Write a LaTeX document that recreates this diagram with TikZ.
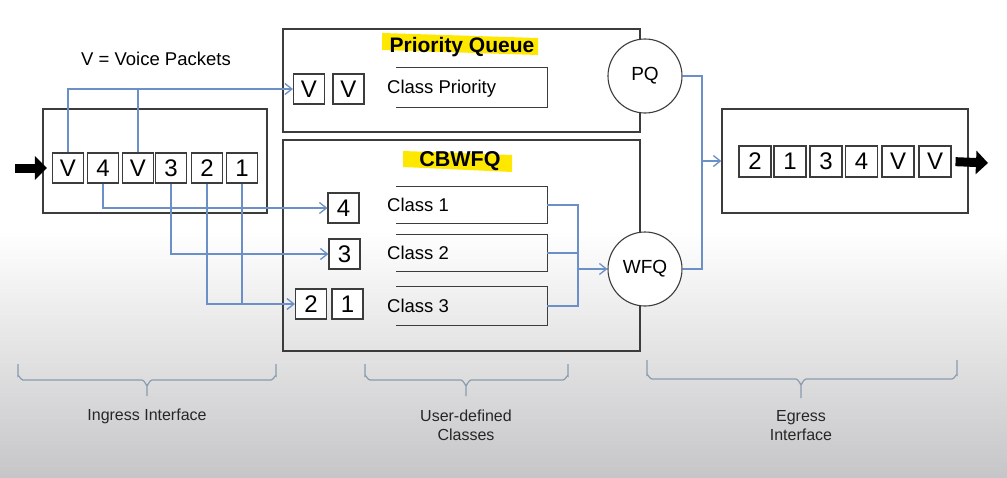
\documentclass[tikz,border=0pt]{standalone}
\usepackage{fontspec}
\setmainfont{Liberation Sans}
\usetikzlibrary{arrows.meta}
\definecolor{boxc}{RGB}{60,60,60}
\definecolor{conc}{RGB}{107,144,200}
\definecolor{hil}{RGB}{255,232,0}
\definecolor{brc}{RGB}{138,155,176}
\definecolor{bgbot}{RGB}{198,198,200}
\begin{document}
\begin{tikzpicture}[x=1pt,y=-1pt,
 fs/.style={font=\fontsize{#1}{#1}\selectfont},
 box/.style={draw=boxc,line width=1.3pt,inner sep=0},
 pkt/.style={draw=boxc,line width=1.1pt,fill=white,minimum width=31pt,minimum height=30pt,inner sep=0,font=\fontsize{24}{24}\selectfont},
 conn/.style={draw=conc,line width=1.3pt,-{Straight Barb[length=7pt,width=11pt]}},
 link/.style={draw=conc,line width=1.3pt},
 que/.style={minimum width=151pt,inner sep=0},
 qline/.style={draw=boxc,line width=1.2pt},
 qlab/.style={anchor=west,inner sep=0,font=\fontsize{18.5}{18.5}\selectfont},
 sched/.style={circle,draw=boxc,line width=1.1pt,fill=white,minimum size=74pt,inner sep=0,font=\fontsize{19}{19}\selectfont},
 big/.style={line width=9pt,-{Triangle[length=12pt,width=23pt]}},
 brace/.style={draw=brc,line width=1.2pt},
 blab/.style={font=\fontsize{16}{19}\selectfont,align=center,text=black!85}
]
\useasboundingbox (0,0) rectangle (1007,477);
\fill[white] (0,0) rectangle (1007,477);
\shade[top color=white,bottom color=bgbot] (0,230) rectangle (1007,477);

% highlights
\fill[hil] (382,33) -- (538,38) -- (538,55) -- (382,50) -- cycle;
\fill[hil] (403,151) -- (512,155) -- (512,172) -- (403,167) -- cycle;

% main boxes
\node[box,minimum width=224pt,minimum height=104pt] (ing) at (155,161) {};
\node[box,minimum width=357pt,minimum height=103pt] (pqbox) at (461.5,80.5) {};
\node[box,minimum width=357pt,minimum height=211pt] (cbbox) at (461.5,245.5) {};
\node[box,minimum width=246pt,minimum height=104pt] (egr) at (845,161) {};

% titles
\node[font=\fontsize{21}{21}\selectfont\bfseries] (pqt) at (462,47) {Priority Queue};
\node[font=\fontsize{21.5}{21.5}\selectfont\bfseries] (cbt) at (460,161) {CBWFQ};
\node[fs=18.5] (vt) at (156,59) {V = Voice Packets};

% ingress packets
\node[pkt] (i1) at (68,168) {V};
\node[pkt] (i2) at (103,168) {4};
\node[pkt] (i3) at (138,168) {V};
\node[pkt] (i4) at (171,168) {3};
\node[pkt] (i5) at (207,168) {2};
\node[pkt] (i6) at (242,168) {1};

% priority queue
\node[pkt] (pv1) at (309,89) {V};
\node[pkt] (pv2) at (348.5,89) {V};
\node[que,minimum height=39pt] (qp) at (471.5,87.5) {};
\draw[qline] (qp.north west) -- (qp.north east) -- (qp.south east) -- (qp.south west);
\node[qlab] (qpl) at (387,89) {Class Priority};

% CBWFQ queues
\node[pkt] (c4) at (343.5,208) {4};
\node[pkt] (c3) at (344.5,254) {3};
\node[pkt] (c2) at (311,304) {2};
\node[pkt] (c1) at (347.5,304) {1};
\node[que,minimum height=37pt] (q1) at (471.5,205) {};
\node[que,minimum height=37pt] (q2) at (471.5,253) {};
\node[que,minimum height=39pt] (q3) at (471.5,306) {};
\foreach \q in {q1,q2,q3}
  \draw[qline] (\q.north west) -- (\q.north east) -- (\q.south east) -- (\q.south west);
\node[qlab] (q1l) at (387,205) {Class 1};
\node[qlab] (q2l) at (387,253) {Class 2};
\node[qlab] (q3l) at (387,306) {Class 3};

% schedulers
\node[sched] (pq) at (645,76) {PQ};
\node[sched] (wfq) at (645,269) {WFQ};

% egress packets
\node[pkt,minimum width=32pt,minimum height=31pt] (e1) at (755,161.5) {2};
\node[pkt,minimum width=32pt,minimum height=31pt] (e2) at (790,161.5) {1};
\node[pkt,minimum width=32pt,minimum height=31pt] (e3) at (826,161.5) {3};
\node[pkt,minimum width=32pt,minimum height=31pt] (e4) at (861.5,161.5) {4};
\node[pkt,minimum width=32pt,minimum height=31pt] (e5) at (898,161.5) {V};
\node[pkt,minimum width=32pt,minimum height=31pt] (e6) at (935,161.5) {V};

% connectors ingress -> queues
\draw[conn] (i1.north) |- (pv1.west);
\draw[link] (i3.north) -- (i3 |- pv1);
\draw[conn] (i2.south) |- (c4.west);
\draw[conn] (i4.south) |- (c3.west);
\draw[conn] (i5.south) |- (c2.west);
\draw[link] (i6.south) -- (i6 |- c2);

% queues -> WFQ
\coordinate (j) at (578,269);
\draw[link] (q1.east) -| (j);
\draw[link] (q2.east) -| (j);
\draw[link] (q3.east) -| (j);
\draw[conn] (j) -- (wfq.west);

% schedulers -> egress
\coordinate (k) at (702,161);
\draw[link] (pq.east) -| (k);
\draw[link] (wfq.east) -| (k);
\draw[conn] (k) -- (egr.west);

% big arrows
\coordinate (inA) at (15,168);
\coordinate (outA) at (988,163);
\draw[big,shorten >=5pt] (inA) -- (i1.west);
\draw[big,shorten <=4pt] (e6.east) -- (outA);

% braces
\draw[brace] (18,364) -- (18,376) to[out=90,in=180] (23,380) -- (142,380) to[out=0,in=-90] (147,385) -- (147,396);
\draw[brace] (147,385) to[out=-90,in=180] (152,380) -- (271,380) to[out=0,in=90] (276,376) -- (276,364);
\draw[brace] (365,364) -- (365,376) to[out=90,in=180] (370,380) -- (461,380) to[out=0,in=-90] (466,385) -- (466,396);
\draw[brace] (466,385) to[out=-90,in=180] (471,380) -- (563,380) to[out=0,in=90] (568,376) -- (568,364);
\draw[brace] (647,360) -- (647,375) to[out=90,in=180] (652,379) -- (796,379) to[out=0,in=-90] (801,384) -- (801,398);
\draw[brace] (801,384) to[out=-90,in=180] (806,379) -- (952,379) to[out=0,in=90] (957,375) -- (957,360);

\node[blab] (lin) at (147,416) {Ingress Interface};
\node[blab] (lus) at (466,425.5) {User-defined\\Classes};
\node[blab] (leg) at (801,425.5) {Egress\\Interface};
\end{tikzpicture}
\end{document}
